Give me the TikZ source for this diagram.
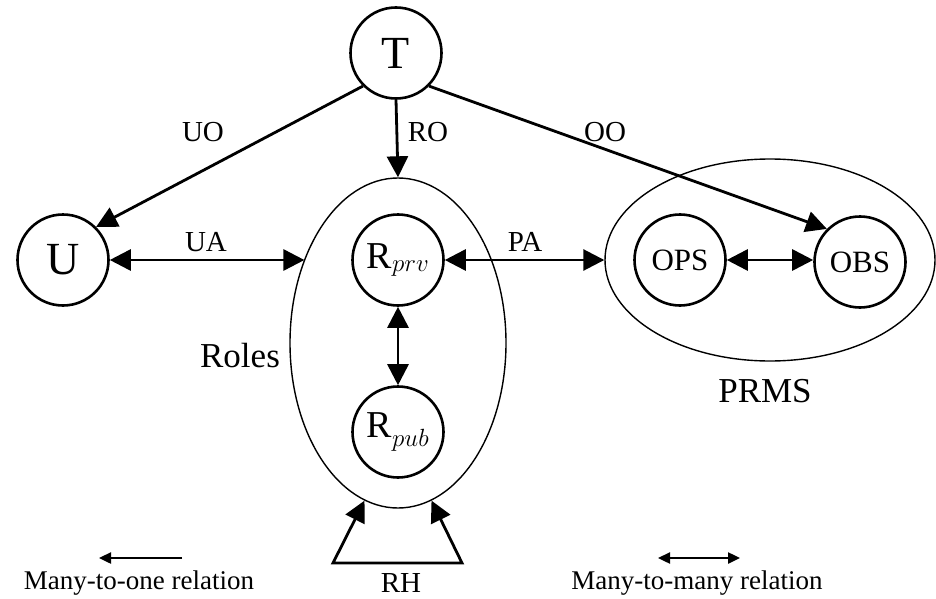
\documentclass[tikz,border=0pt]{standalone}
\usepackage{fontspec}
\setmainfont{Liberation Serif}
\usetikzlibrary{arrows.meta}
\usetikzlibrary{shapes.geometric}

\tikzset{
ent/.style={circle, draw, line width=2.6pt, minimum size=91pt, inner sep=0pt},
grp/.style={ellipse, draw, line width=1.4pt, inner sep=0pt},
rel/.style={line width=2.8pt, -{Triangle[length=21pt,width=21pt]}},
mrel/.style={line width=2.8pt, {Triangle[length=21pt,width=21pt]}-{Triangle[length=21pt,width=21pt]}},
keyrel/.style={line width=2.4pt, -{Triangle[length=12pt,width=11pt]}},
keymrel/.style={line width=2.4pt, {Triangle[length=12pt,width=11pt]}-{Triangle[length=12pt,width=11pt]}},
lbl/.style={anchor=base, inner sep=0pt, text depth=0pt, font=\fontsize{29}{31}\selectfont},
biglbl/.style={anchor=base, inner sep=0pt, font=\fontsize{35}{38}\selectfont},
keylbl/.style={anchor=base, inner sep=0pt, font=\fontsize{27}{29}\selectfont},
}

\begin{document}
\begin{tikzpicture}[x=1pt,y=1pt]
\useasboundingbox (0,0) rectangle (936,-599);

% groups
\node[grp, minimum width=216pt, minimum height=330pt] (Roles) at (398,-343) {};
\node[grp, minimum width=330pt, minimum height=202pt] (PRMS) at (770,-260) {};

% entities
\node[ent, font=\fontsize{46}{48}\selectfont] (T) at (396,-53) {T};
\node[ent, font=\fontsize{46}{48}\selectfont] (U) at (63,-260) {U};
\node[ent, font=\fontsize{38}{40}\selectfont] (Rprv) at (398,-260) {R$_{prv}$};
\node[ent, font=\fontsize{38}{40}\selectfont] (Rpub) at (398,-432) {R$_{pub}$};
\node[ent, font=\fontsize{31}{33}\selectfont] (OPS) at (680,-260) {OPS};
\node[ent, font=\fontsize{31}{33}\selectfont] (OBS) at (860,-262) {OBS};

% RH corners
\coordinate (rhl) at (333,-563);
\coordinate (rhr) at (462,-563);

% relations
\draw[rel] (T.-135) -- (U.45);
\draw[rel] (T.south) -- (Roles.north);
\draw[rel] (T.-45) -- (OBS.135);
\draw[mrel] (U.east) -- (U.east -| Roles.138);
\draw[mrel] (Rprv.east) -- (PRMS.west);
\draw[mrel] (Rprv.south) -- (Rpub.north);
\draw[mrel] (OPS.east) -- (OPS.east -| OBS.west);
\draw[mrel, line join=miter] (Roles.-102) -- (rhl) -- (rhr) -- (Roles.-78);

\node[lbl] (UO) at (203,-142) {UO}; % UO label
\node[lbl] (RO) at (428,-142) {RO}; % RO label
\node[lbl] (OO) at (605,-142) {OO}; % OO label
\node[lbl] (UA) at (206,-251) {UA}; % UA label
\node[lbl] (PA) at (525,-251) {PA}; % PA label
\node[lbl] (RH) at (401,-592) {RH}; % RH label
\node[biglbl] (RolesLbl) at (240,-367) {Roles}; % Roles label
\node[biglbl] (PRMSLbl) at (765,-402) {PRMS}; % PRMS label

% key
\coordinate (k1a) at (182,-558);
\coordinate (k1b) at (99,-558);
\coordinate (k2a) at (658,-558);
\coordinate (k2b) at (740,-558);
\draw[keyrel] (k1a) -- (k1b);
\draw[keymrel] (k2a) -- (k2b);
\node[keylbl] (k1) at (139,-589) {Many-to-one relation};
\node[keylbl] (k2) at (697,-589) {Many-to-many relation};

\end{tikzpicture}
\end{document}
